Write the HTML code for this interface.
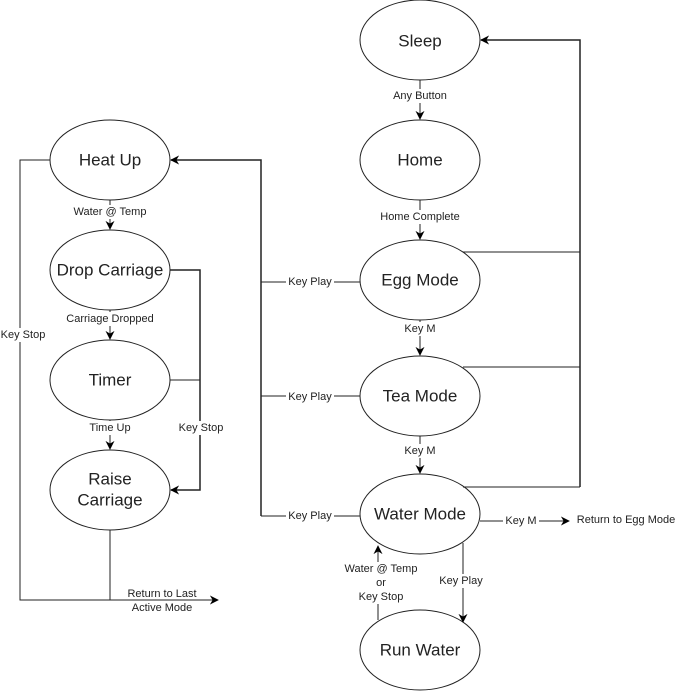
<!DOCTYPE html>
<html><head><meta charset="utf-8"><style>
html,body{margin:0;padding:0;background:#fff;}
svg{display:block;}
text{font-family:"Liberation Sans",Arial,sans-serif;fill:#222;}
.n{font-size:17px;text-anchor:middle;dominant-baseline:central;}
.l{font-size:11px;text-anchor:middle;dominant-baseline:central;}
</style></head><body>
<svg width="692" height="691" viewBox="0 0 692 691" xmlns="http://www.w3.org/2000/svg">
<defs><marker id="a" viewBox="0 0 10 10" refX="9" refY="5" markerWidth="9" markerHeight="9" orient="auto" markerUnits="userSpaceOnUse"><path d="M0,0 L10,5 L0,10 L3,5 z" fill="#000"/></marker></defs>
<g fill="none" stroke="#222" stroke-width="1">
<ellipse cx="420" cy="40" rx="60" ry="40"/>
<ellipse cx="420" cy="160" rx="60" ry="40"/>
<ellipse cx="420" cy="280" rx="60" ry="40"/>
<ellipse cx="420" cy="396" rx="60" ry="40"/>
<ellipse cx="420" cy="514" rx="60" ry="40"/>
<ellipse cx="420" cy="650" rx="60" ry="40"/>
<ellipse cx="110" cy="160" rx="60" ry="40"/>
<ellipse cx="110" cy="270" rx="60" ry="40"/>
<ellipse cx="110" cy="380" rx="60" ry="40"/>
<ellipse cx="110" cy="490" rx="60" ry="40"/>
<path d="M420 80V119" marker-end="url(#a)"/>
<path d="M420 200V239" marker-end="url(#a)"/>
<path d="M420 320V355" marker-end="url(#a)"/>
<path d="M420 436V473" marker-end="url(#a)"/>
<path d="M110 200V229" marker-end="url(#a)"/>
<path d="M110 310V339" marker-end="url(#a)"/>
<path d="M110 420V449" marker-end="url(#a)"/>
<path d="M580 487V40H481" stroke-width="1.5" marker-end="url(#a)"/>
<path d="M463 252H580M463 367H580M463 487H580"/>
<path d="M261 516V160H171" stroke-width="1.5" marker-end="url(#a)"/>
<path d="M261 282H360M261 396H360M261 516H360"/>
<path d="M170 270H200V490H171" stroke-width="1.5" marker-end="url(#a)"/>
<path d="M170 380H200"/>
<path d="M50 160H20V600H218" marker-end="url(#a)"/>
<path d="M110 530V600"/>
<path d="M480 521H569" marker-end="url(#a)"/>
<path d="M463 543V622" marker-end="url(#a)"/>
<path d="M378 620V546" marker-end="url(#a)"/>
</g>
<g>
<text class="n" x="420" y="41">Sleep</text>
<text class="n" x="420" y="160">Home</text>
<text class="n" x="420" y="280">Egg Mode</text>
<text class="n" x="420" y="396">Tea Mode</text>
<text class="n" x="420" y="514">Water Mode</text>
<text class="n" x="420" y="650">Run Water</text>
<text class="n" x="110" y="160">Heat Up</text>
<text class="n" x="110" y="270">Drop Carriage</text>
<text class="n" x="110" y="380">Timer</text>
<text class="n" x="110" y="479">Raise</text>
<text class="n" x="110" y="500">Carriage</text>
</g>
<g>
<rect x="388" y="89" width="64" height="14" fill="#fff"/>
<text class="l" x="420" y="96">Any Button</text>
<rect x="375" y="210" width="90" height="14" fill="#fff"/>
<text class="l" x="420" y="217">Home Complete</text>
<rect x="402" y="322" width="36" height="14" fill="#fff"/>
<text class="l" x="420" y="329">Key M</text>
<rect x="402" y="444" width="36" height="14" fill="#fff"/>
<text class="l" x="420" y="451">Key M</text>
<rect x="68" y="205" width="84" height="14" fill="#fff"/>
<text class="l" x="110" y="212">Water @ Temp</text>
<rect x="62" y="312" width="96" height="14" fill="#fff"/>
<text class="l" x="110" y="319">Carriage Dropped</text>
<rect x="86" y="421" width="48" height="14" fill="#fff"/>
<text class="l" x="110" y="428">Time Up</text>
<rect x="174" y="421" width="52" height="14" fill="#fff"/>
<text class="l" x="201" y="428">Key Stop</text>
<rect x="0" y="328" width="48" height="14" fill="#fff"/>
<text class="l" x="23" y="335">Key Stop</text>
<rect x="286" y="275" width="48" height="14" fill="#fff"/>
<text class="l" x="310" y="282">Key Play</text>
<rect x="286" y="389" width="48" height="14" fill="#fff"/>
<text class="l" x="310" y="397">Key Play</text>
<rect x="286" y="509" width="48" height="14" fill="#fff"/>
<text class="l" x="310" y="516">Key Play</text>
<rect x="503" y="514" width="36" height="14" fill="#fff"/>
<text class="l" x="521" y="521">Key M</text>
<text class="l" x="626" y="520">Return to Egg Mode</text>
<rect x="436" y="574" width="50" height="14" fill="#fff"/>
<text class="l" x="461" y="581">Key Play</text>
<rect x="340" y="562" width="80" height="42" fill="#fff"/>
<text class="l" x="381" y="569">Water @ Temp</text>
<text class="l" x="381" y="583">or</text>
<text class="l" x="381" y="597">Key Stop</text>
<text class="l" x="162" y="594">Return to Last</text>
<text class="l" x="162" y="608">Active Mode</text>
</g>
</svg>
</body></html>
